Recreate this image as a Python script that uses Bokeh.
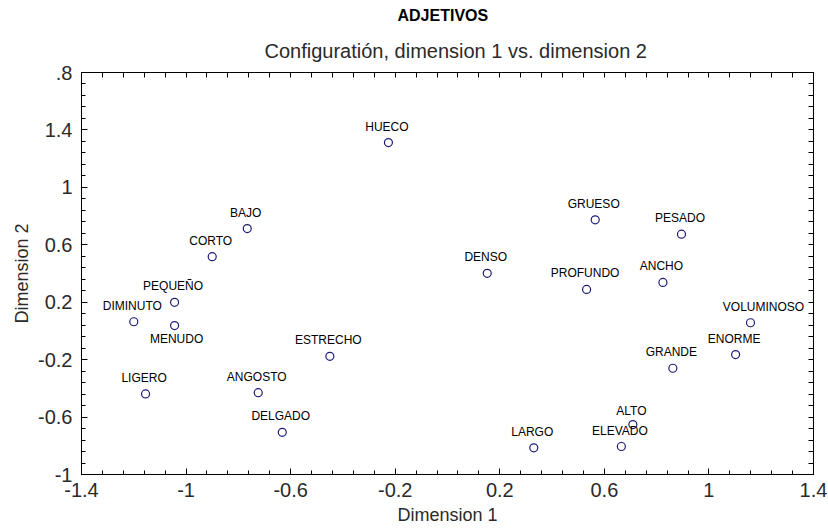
import numpy as np
from bokeh.plotting import figure
from bokeh.models import Range1d, LinearAxis, FixedTicker, Title, ColumnDataSource
from bokeh.core.properties import value
from bokeh.embed import file_html
from bokeh.resources import INLINE

# ---- data ----
words = ["HUECO", "BAJO", "CORTO", "PEQUEÑO", "DIMINUTO", "MENUDO", "LIGERO",
         "ANGOSTO", "DELGADO", "ESTRECHO", "DENSO", "GRUESO", "PESADO",
         "PROFUNDO", "ANCHO", "VOLUMINOSO", "ENORME", "GRANDE", "ALTO",
         "ELEVADO", "LARGO"]
dim1 = [-0.226, -0.766, -0.900, -1.044, -1.200, -1.044, -1.155,
        -0.724, -0.632, -0.450, 0.152, 0.565, 0.895,
        0.532, 0.824, 1.159, 1.102, 0.862, 0.709,
        0.665, 0.330]
dim2 = [1.312, 0.713, 0.517, 0.199, 0.064, 0.037, -0.439,
        -0.430, -0.706, -0.177, 0.401, 0.774, 0.674,
        0.289, 0.338, 0.057, -0.165, -0.260, -0.652,
        -0.805, -0.814]

x_ticks = [-1.4, -1.0, -0.6, -0.2, 0.2, 0.6, 1.0, 1.4]
x_tick_labels = ["-1.4", "-1", "-0.6", "-0.2", "0.2", "0.6", "1", "1.4"]
y_ticks = [-1.0, -0.6, -0.2, 0.2, 0.6, 1.0, 1.4, 1.8]
y_tick_labels = ["-1", "-0.6", "-0.2", "0.2", "0.6", "1", "1.4", ".8"]

title_text = "ADJETIVOS"
subtitle_text = "Configuratión, dimension 1 vs. dimension 2"
x_label = "Dimension 1"
y_label = "Dimension 2"

# ---- label placement (screen pixels, style only) ----
label_dx = [-1.5] * len(words)
label_dy = [-16] * len(words)
label_dx[words.index("MENUDO")] = 2
label_dy[words.index("MENUDO")] = 13
label_dx[words.index("VOLUMINOSO")] = 13
label_dy[words.index("ALTO")] = -14

FONT = "Liberation Sans"

src = ColumnDataSource(dict(x=dim1, y=dim2, t=words, dx=label_dx, dy=label_dy))

p = figure(width=828, height=529,
           x_range=Range1d(-1.4, 1.4), y_range=Range1d(-1.0, 1.8),
           output_backend="svg", toolbar_location=None, title=None,
           min_border_left=81, min_border_right=15,
           min_border_top=72, min_border_bottom=55,
           background_fill_color="white", border_fill_color="white")

minor_x = list(np.round(np.arange(-1.4, 1.4001, 0.08), 4))
minor_y = list(np.round(np.arange(-1.0, 1.8001, 0.08), 4))

def style_axis(ax):
    ax.axis_line_color = "black"
    ax.axis_line_width = 1
    ax.major_tick_in = 6
    ax.major_tick_out = 0
    ax.minor_tick_in = 4
    ax.minor_tick_out = 0
    ax.major_tick_line_color = "black"
    ax.minor_tick_line_color = "black"

xa = p.xaxis[0]
ya = p.yaxis[0]
for ax, ticks, minor, labels in ((xa, x_ticks, minor_x, x_tick_labels),
                                 (ya, y_ticks, minor_y, y_tick_labels)):
    style_axis(ax)
    ax.ticker = FixedTicker(ticks=ticks, minor_ticks=minor)
    ax.major_label_overrides = {t: s for t, s in zip(ticks, labels)}
    ax.major_label_text_font = FONT
    ax.major_label_text_font_size = "20px"
    ax.major_label_text_color = "#2a2a2a"
    ax.axis_label_text_font = FONT
    ax.axis_label_text_font_size = "18px"
    ax.axis_label_text_font_style = "normal"
    ax.axis_label_text_color = "#2a2a2a"
xa.major_label_standoff = 8
ya.major_label_standoff = 9
xa.axis_label = x_label
ya.axis_label = y_label
xa.axis_label_standoff = 5
ya.axis_label_standoff = 3

# ticks only (no labels) on the top and right sides
top_ax = LinearAxis(ticker=FixedTicker(ticks=[], minor_ticks=minor_x))
right_ax = LinearAxis(ticker=FixedTicker(ticks=[], minor_ticks=minor_y))
for ax in (top_ax, right_ax):
    style_axis(ax)
    ax.minor_tick_in = 5
p.add_layout(top_ax, "above")
p.add_layout(right_ax, "right")

p.add_layout(Title(text=subtitle_text, align="left", text_font=FONT,
                   text_font_size="20px", text_font_style="normal",
                   text_color="#2a2a2a", standoff=21, offset=183), "above")
p.add_layout(Title(text=title_text, align="left", text_font=FONT,
                   text_font_size="16px", text_font_style="bold",
                   text_color="black", standoff=8, offset=316), "above")

p.xgrid.grid_line_color = None
p.ygrid.grid_line_color = None
p.outline_line_color = "black"

p.scatter("x", "y", source=src, marker="circle", size=8,
          fill_color="white", line_color="#1c1c78", line_width=1.2)
p.text("x", "y", text="t", source=src, x_offset="dx", y_offset="dy",
       text_align="center", text_baseline="middle",
       text_font=value(FONT), text_font_size="12px", text_color="black")

open("out.html", "w").write(file_html(p, INLINE))
